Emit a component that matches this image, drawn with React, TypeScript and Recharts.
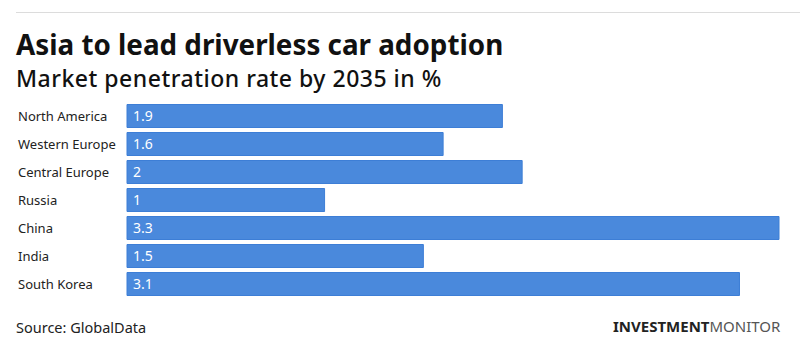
import React from "react";
import { BarChart, Bar, XAxis, YAxis, LabelList } from "recharts";

const regions = ["North America", "Western Europe", "Central Europe", "Russia", "China", "India", "South Korea"];
const penetration = [1.9, 1.6, 2, 1, 3.3, 1.5, 3.1];

const data = regions.map((name, i) => ({ name, value: penetration[i] }));

const FONT = "'Noto Sans', 'Open Sans', sans-serif";

const LeftTick = (props: any) => {
  const { y, payload } = props;
  return (
    <text x={18} y={y} dy={5} textAnchor="start" fontSize={13} fill="#222" fontFamily={FONT}>
      {payload.value}
    </text>
  );
};

export default function App() {
  return (
    <div style={{ position: "absolute", left: 0, top: 0, width: 800, height: 356, background: "#fff", fontFamily: FONT }}>
      <div style={{ position: "absolute", left: 16, top: 12, width: 784, height: 1, background: "#dcdcdc" }} />
      <div style={{ position: "absolute", left: 16, top: 25, fontSize: 27.8, fontWeight: 700, color: "#111", lineHeight: "38px", whiteSpace: "nowrap" }}>
        Asia to lead driverless car adoption
      </div>
      <div style={{ position: "absolute", left: 16, top: 63, fontSize: 23, fontWeight: 500, color: "#111", lineHeight: "30px", letterSpacing: 0.5, whiteSpace: "nowrap" }}>
        Market penetration rate by 2035 in %
      </div>
      <div style={{ position: "absolute", left: 0, top: 0 }}>
        <BarChart
          width={800}
          height={356}
          layout="vertical"
          data={data}
          margin={{ top: 101.5, right: 21, bottom: 58.5, left: 0 }}
        >
          <XAxis type="number" domain={[0, 3.3]} hide />
          <YAxis type="category" dataKey="name" width={127} axisLine={false} tickLine={false} tick={<LeftTick />} />
          <Bar dataKey="value" fill="#4a89dc" stroke="#3d7ed6" strokeWidth={1} barSize={23} isAnimationActive={false}>
            <LabelList dataKey="value" position="insideLeft" offset={6} fill="#fff" fontSize={14} fontFamily={FONT} />
          </Bar>
        </BarChart>
      </div>
      <div style={{ position: "absolute", left: 16, top: 317, fontSize: 14.5, color: "#222", lineHeight: "20px" }}>
        Source: GlobalData
      </div>
      <div style={{ position: "absolute", left: 613, top: 316, fontSize: 15, color: "#222", lineHeight: "20px", whiteSpace: "nowrap" }}>
        <span style={{ fontWeight: 700 }}>INVESTMENT</span>
        <span style={{ fontWeight: 400, color: "#555" }}>MONITOR</span>
      </div>
    </div>
  );
}
